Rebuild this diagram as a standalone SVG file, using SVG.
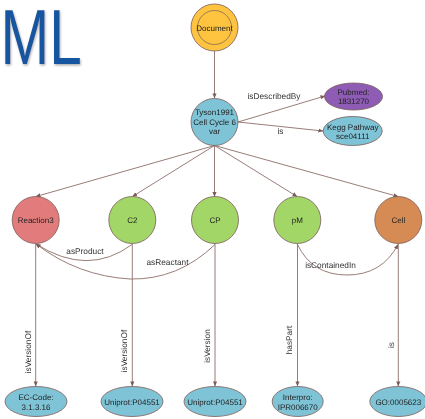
<svg xmlns="http://www.w3.org/2000/svg" width="425" height="419" viewBox="0 0 425 419">
<defs>
<style>
.n{stroke:#7a5c58;stroke-width:.8}
.e{fill:none;stroke:#8c6e69;stroke-width:.9}
text{font-family:"Liberation Sans",Arial,sans-serif;font-size:8px;fill:#222;text-anchor:middle;text-rendering:geometricPrecision}
.l{font-size:8.3px;fill:#333}
.blue{fill:#7fc3d6}.green{fill:#a2d768}
</style>
<marker id="a" viewBox="0 0 6 6" refX="5.5" refY="3" markerWidth="5" markerHeight="5" orient="auto" markerUnits="userSpaceOnUse"><path d="M0 .5L6 3L0 5.5z" fill="#7a5c58"/></marker>
<filter id="sh" x="-30%" y="-30%" width="160%" height="160%"><feDropShadow dx=".8" dy="1.5" stdDeviation=".9" flood-color="#8a8a8a" flood-opacity=".7"/></filter>
<filter id="soft" filterUnits="userSpaceOnUse" x="0" y="0" width="425" height="419"><feGaussianBlur stdDeviation=".3"/></filter>
</defs>
<g filter="url(#soft)">
<g id="logo" filter="url(#sh)"><text transform="translate(.5 64) scale(.75 1)" style="font-size:78px;fill:#14549f;text-anchor:start">ML</text></g>
<g id="connectors">
<path class="e" d="M214.500 51V98" marker-end="url(#a)"/>
<path class="e" d="M238 122L325 96" marker-end="url(#a)"/>
<path class="e" d="M238 122L323 131" marker-end="url(#a)"/>
<path class="e" d="M214.500 145.500L36 196.500" marker-end="url(#a)"/>
<path class="e" d="M214.500 145.500L132.500 196.500" marker-end="url(#a)"/>
<path class="e" d="M214.500 145.500V196.500" marker-end="url(#a)"/>
<path class="e" d="M214.500 145.500L297 196.500" marker-end="url(#a)"/>
<path class="e" d="M214.500 145.500L398 196.500" marker-end="url(#a)"/>
<path class="e" d="M132 244.500Q88 277 36 244" marker-end="url(#a)"/>
<path class="e" d="M215 244.500Q178 280 130 279Q78 276 36 244" marker-end="url(#a)"/>
<path class="e" d="M297.500 244.500Q312 275 347 275Q382 275 398 244.500" marker-end="url(#a)"/>
<path class="e" d="M35.700 243.500V386" marker-end="url(#a)"/>
<path class="e" d="M132.300 243.500V386" marker-end="url(#a)"/>
<path class="e" d="M215 243.500V386" marker-end="url(#a)"/>
<path class="e" d="M297.500 243.500V386" marker-end="url(#a)"/>
<path class="e" d="M398.300 243.500V386" marker-end="url(#a)"/>
<text class="l" x="274" y="99">isDescribedBy</text>
<text class="l" x="280.500" y="133.500">is</text>
<text class="l" x="85" y="254">asProduct</text>
<text class="l" x="167.500" y="265">asReactant</text>
<text class="l" x="330.500" y="268">isContainedIn</text>
<text class="l" transform="translate(31 352) rotate(-90)">isVersionOf</text>
<text class="l" transform="translate(127 351) rotate(-90)">isVersionOf</text>
<text class="l" transform="translate(210 346) rotate(-90)">isVersion</text>
<text class="l" transform="translate(292 340) rotate(-90)">hasPart</text>
<text class="l" transform="translate(393.500 345) rotate(-90)">is</text>
</g>
<g id="document"><circle class="n" cx="214.500" cy="27.500" r="23.500" fill="#fec440"/><circle cx="214.500" cy="27.500" r="17" fill="none" stroke="#7a5c58" stroke-width=".7"/><text x="214.500" y="30.500">Document</text></g>
<g id="tyson"><circle class="n blue" cx="214.500" cy="122" r="23.500"/><text x="214.500" y="115">Tyson1991</text><text x="214.500" y="124.500">Cell Cycle 6</text><text x="214.500" y="133.500">var</text></g>
<g id="pubmed"><ellipse class="n" cx="353.500" cy="96.500" rx="29" ry="13.500" fill="#8e5cb5"/><text x="353.500" y="94.500">Pubmed:</text><text x="353.500" y="103.500">1831270</text></g>
<g id="kegg"><ellipse class="n blue" cx="352.700" cy="131" rx="29.500" ry="14.500"/><text x="352.700" y="129.500">Kegg Pathway</text><text x="352.700" y="138.500">sce04111</text></g>
<g id="reaction3"><circle class="n" cx="35.700" cy="220" r="23.500" fill="#e27c7c"/><text x="35.700" y="223">Reaction3</text></g>
<g id="c2"><circle class="n green" cx="132.300" cy="220" r="23.500"/><text x="132.300" y="223">C2</text></g>
<g id="cp"><circle class="n green" cx="215" cy="220" r="23.500"/><text x="215" y="223">CP</text></g>
<g id="pm"><circle class="n green" cx="297.300" cy="220" r="23.500"/><text x="297.300" y="223">pM</text></g>
<g id="cell"><circle class="n" cx="398.300" cy="220" r="23.500" fill="#d58b52"/><text x="398.300" y="223">Cell</text></g>
<g id="eccode"><ellipse class="n blue" cx="36" cy="401.500" rx="31" ry="15"/><text x="36" y="399.500">EC-Code:</text><text x="36" y="409.500">3.1.3.16</text></g>
<g id="uniprot1"><ellipse class="n blue" cx="132" cy="401.500" rx="31" ry="15"/><text x="132" y="404.500">Uniprot:P04551</text></g>
<g id="uniprot2"><ellipse class="n blue" cx="215" cy="401.500" rx="31" ry="15"/><text x="215" y="404.500">Uniprot:P04551</text></g>
<g id="interpro"><ellipse class="n blue" cx="297.700" cy="401.500" rx="25.500" ry="15"/><text x="297.700" y="399.500">Interpro:</text><text x="297.700" y="409.500">IPR006670</text></g>
<g id="go"><ellipse class="n blue" cx="398.300" cy="401.500" rx="28.500" ry="15"/><text x="398.300" y="404.500">GO:0005623</text></g>
</g>
</svg>
